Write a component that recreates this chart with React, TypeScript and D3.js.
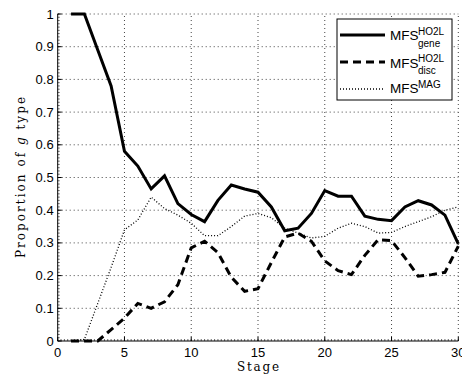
import React from "react";
import * as d3 from "d3";

const stages = [1,2,3,4,5,6,7,8,9,10,11,12,13,14,15,16,17,18,19,20,21,22,23,24,25,26,27,28,29,30];
const geneValues = [1,1,0.89,0.78,0.58,0.535,0.465,0.505,0.42,0.387,0.365,0.43,0.477,0.465,0.455,0.41,0.337,0.345,0.39,0.46,0.443,0.443,0.382,0.372,0.368,0.41,0.429,0.416,0.385,0.297];
const discValues = [0,0,0,0.035,0.07,0.115,0.1,0.12,0.172,0.285,0.305,0.27,0.195,0.152,0.16,0.24,0.318,0.33,0.305,0.245,0.215,0.203,0.262,0.31,0.307,0.255,0.198,0.203,0.21,0.29];
const magValues = [0,0.005,0.115,0.225,0.34,0.37,0.44,0.405,0.385,0.36,0.322,0.322,0.35,0.382,0.39,0.377,0.345,0.33,0.315,0.32,0.345,0.36,0.35,0.33,0.332,0.35,0.365,0.38,0.4,0.41];
const xTicks = [0,5,10,15,20,25,30];
const yTicks = [0,0.1,0.2,0.3,0.4,0.5,0.6,0.7,0.8,0.9,1];

const W = 462, H = 380;
const L = 57.7, R = 458.3, T = 14, B = 341;

export default function App() {
  const x = d3.scaleLinear().domain([0, 30]).range([L, R]);
  const y = d3.scaleLinear().domain([0, 1]).range([B, T]);
  const line = d3.line<number>().x((_, i) => x(stages[i])).y((d) => y(d));
  const xMinor = d3.range(0, 30.001, 0.25);
  const yMinor = d3.range(0, 1.0001, 0.01);
  const sans = "'Liberation Sans', Arial, sans-serif";
  const serif = "'DejaVu Serif', 'Liberation Serif', serif";
  const legX = 337, legY = 19, legW = 115, legH = 81;
  return (
    <svg width={W} height={H} style={{ position: "absolute", left: 0, top: 0, background: "#fff" }}>
      <rect x={0} y={0} width={W} height={H} fill="#fff" />
      {/* grid */}
      {xTicks.filter((t) => t > 0).map((t) => (
        <line key={"gx" + t} x1={x(t)} x2={x(t)} y1={B} y2={T} stroke="#444" strokeWidth={1} strokeDasharray="1,3" />
      ))}
      {yTicks.filter((t) => t > 0).map((t) => (
        <line key={"gy" + t} x1={L} x2={R} y1={y(t)} y2={y(t)} stroke="#444" strokeWidth={1} strokeDasharray="1,3" />
      ))}
      {/* minor ticks */}
      {xMinor.map((t, i) => (
        <line key={"xm" + i} x1={x(t)} x2={x(t)} y1={B} y2={B - 2} stroke="#000" strokeWidth={0.6} />
      ))}
      {yMinor.map((t, i) => (
        <line key={"ym" + i} x1={L} x2={L + 2} y1={y(t)} y2={y(t)} stroke="#000" strokeWidth={0.6} />
      ))}
      {/* major ticks */}
      {xTicks.map((t) => (
        <line key={"xt" + t} x1={x(t)} x2={x(t)} y1={B} y2={B - 4} stroke="#000" strokeWidth={1} />
      ))}
      {yTicks.map((t) => (
        <line key={"yt" + t} x1={L} x2={L + 4} y1={y(t)} y2={y(t)} stroke="#000" strokeWidth={1} />
      ))}
      {/* axes */}
      <line x1={L} x2={L} y1={T} y2={B} stroke="#000" strokeWidth={1} />
      <line x1={L} x2={R} y1={B} y2={B} stroke="#000" strokeWidth={1} />
      {/* tick labels */}
      {xTicks.map((t) => (
        <text key={"xl" + t} x={x(t)} y={B + 16} textAnchor="middle" fontFamily={sans} fontSize={13} fill="#000">{t}</text>
      ))}
      {yTicks.map((t) => (
        <text key={"yl" + t} x={L - 4} y={y(t) + 4.5} textAnchor="end" fontFamily={sans} fontSize={13} fill="#000">{String(t)}</text>
      ))}
      {/* axis labels */}
      <text x={x(15)} y={371} textAnchor="middle" fontFamily={serif} fontSize={12} textLength={42} lengthAdjust="spacing" fill="#000">Stage</text>
      <text transform={`translate(25,${(T + B) / 2}) rotate(-90)`} textAnchor="middle" fontFamily={serif} fontSize={12} textLength={161} lengthAdjust="spacing" fill="#000">
        Proportion of <tspan fontStyle="italic">g</tspan> type
      </text>
      {/* lines */}
      <path d={line(magValues) || ""} fill="none" stroke="#000" strokeWidth={1.3} strokeDasharray="1,2" />
      <path d={line(discValues) || ""} fill="none" stroke="#000" strokeWidth={3} strokeDasharray="8,5" />
      <path d={line(geneValues) || ""} fill="none" stroke="#000" strokeWidth={3} strokeLinejoin="miter" />
      {/* legend */}
      <rect x={legX} y={legY} width={legW} height={legH} fill="#fff" stroke="#000" strokeWidth={1} />
      <line x1={340} x2={385} y1={35} y2={35} stroke="#000" strokeWidth={3} />
      <line x1={340} x2={385} y1={62} y2={62} stroke="#000" strokeWidth={3} strokeDasharray="8,5" />
      <line x1={340} x2={385} y1={89} y2={89} stroke="#000" strokeWidth={1.3} strokeDasharray="1,2" />
      <text x={390} y={40} fontFamily={sans} fontSize={13.5} fill="#000">MFS</text>
      <text x={418} y={35} fontFamily={sans} fontSize={10} fill="#000">HO2L</text>
      <text x={418} y={47} fontFamily={sans} fontSize={10} fill="#000">gene</text>
      <text x={390} y={68} fontFamily={sans} fontSize={13.5} fill="#000">MFS</text>
      <text x={418} y={62} fontFamily={sans} fontSize={10} fill="#000">HO2L</text>
      <text x={418} y={74} fontFamily={sans} fontSize={10} fill="#000">disc</text>
      <text x={390} y={93} fontFamily={sans} fontSize={13.5} fill="#000">MFS</text>
      <text x={418} y={88} fontFamily={sans} fontSize={10} fill="#000">MAG</text>
    </svg>
  );
}
